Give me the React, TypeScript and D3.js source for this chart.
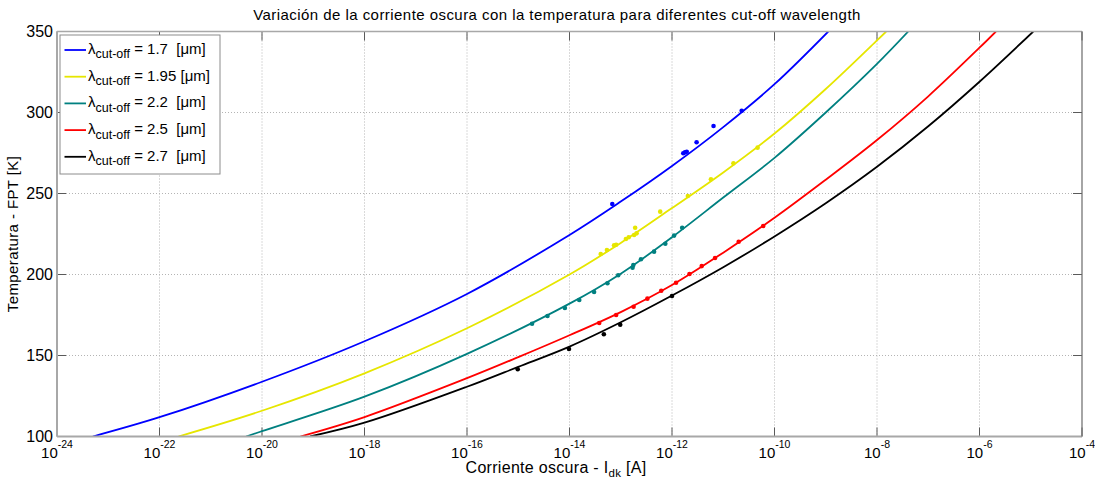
import React from "react";
import * as d3 from "d3";

// Fitted dark-current curves: current [A] vs FPA temperature [K]
const blueCurveI = [5.0e-24, 1e-22, 1e-20, 1e-18, 1e-16, 1e-14, 1e-13, 1e-12, 1e-11, 1e-10, 1.12e-9];
const blueCurveT = [100, 111.9, 133.8, 158.8, 188, 224.4, 245, 267, 291, 317.5, 350];

const yellowCurveI = [2.34e-22, 1e-20, 1e-18, 1e-16, 1e-14, 1e-13, 1e-12, 1e-11, 1e-10, 1e-9, 1e-8, 1.51e-8];
const yellowCurveT = [100, 115.9, 139, 166.8, 200, 219.5, 241, 263, 287, 314.5, 344.5, 350];

const tealCurveI = [4.9e-21, 1e-20, 1e-18, 1e-16, 1e-14, 1e-13, 1e-12, 1e-11, 1e-10, 1e-9, 1e-8, 4.07e-8];
const tealCurveT = [100, 103.3, 124.6, 151, 182, 200.5, 223, 247.5, 272, 300, 330, 350];

const redCurveI = [5.6e-20, 1e-18, 1e-16, 1e-15, 1e-14, 1e-13, 1e-12, 1e-11, 1e-10, 1e-9, 1e-8, 1e-7, 1e-6, 2.09e-6];
const redCurveT = [100, 112, 136, 149, 162.5, 176.8, 193.5, 213.5, 235, 258.5, 283, 310, 340, 350];

const blackCurveI = [8.7e-20, 1e-18, 1e-16, 1e-15, 1e-14, 1e-13, 1e-12, 1e-11, 1e-10, 1e-9, 1e-8, 1e-7, 1e-6, 1.12e-5];
const blackCurveT = [100, 108.5, 130.7, 143, 155.5, 170.5, 187, 204.5, 223.5, 244, 266.5, 291.5, 319, 350];

// Measured points
const bluePtsI = [6.84e-14, 1.66e-12, 1.79e-12, 1.94e-12, 3.02e-12, 6.46e-12, 2.29e-11];
const bluePtsT = [243.5, 274.8, 275.4, 275.8, 281.6, 291.7, 301.1];

const yellowPtsI = [4.07e-14, 5.37e-14, 7.41e-14, 8.13e-14, 1.26e-13, 1.43e-13, 1.82e-13, 1.91e-13, 2.04e-13, 5.89e-13, 2.04e-12, 5.75e-12, 1.58e-11, 4.68e-11];
const yellowPtsT = [212.7, 215.1, 218.0, 218.4, 221.9, 223.0, 224.4, 228.9, 225.4, 238.8, 248.5, 258.8, 268.6, 278.3];

const tealPtsI = [1.86e-15, 3.72e-15, 8.13e-15, 1.55e-14, 3.02e-14, 5.5e-14, 8.91e-14, 1.7e-13, 1.76e-13, 2.48e-13, 4.47e-13, 7.41e-13, 1.1e-12, 1.58e-12];
const tealPtsT = [169.6, 174.4, 179.3, 184.3, 189.2, 194.6, 199.5, 204.2, 205.9, 209.4, 214.1, 219.0, 224.0, 228.9];

const redPtsI = [3.8e-14, 8.13e-14, 1.78e-13, 3.31e-13, 6.17e-13, 1.2e-12, 2.19e-12, 3.8e-12, 6.92e-12, 2.0e-11, 6.03e-11];
const redPtsT = [170.1, 175.0, 180.1, 185.1, 190.0, 194.9, 200.3, 205.2, 210.2, 220.2, 229.9];

const blackPtsI = [9.77e-16, 9.77e-15, 4.68e-14, 9.77e-14, 1.0e-12];
const blackPtsT = [141.5, 154.0, 163.1, 169.0, 186.7];

const cutoffLabels = ["1.7", "1.95", "2.2", "2.5", "2.7"];
const seriesColors = ["#0000ff", "#e6e600", "#008080", "#ff0000", "#000000"];

const xTickExponents = [-24, -22, -20, -18, -16, -14, -12, -10, -8, -6, -4];
const yTicks = [100, 150, 200, 250, 300, 350];

const titleText = "Variación de la corriente oscura con la temperatura para diferentes cut-off wavelength";

const W = 1095;
const H = 480;
const M = { left: 57, right: 1082, top: 31.5, bottom: 436.5 };
const FONT = "'Liberation Sans', Arial, Helvetica, sans-serif";

export default function App() {
  const x = d3.scaleLog().domain([1e-24, 1e-4]).range([M.left, M.right]);
  const y = d3.scaleLinear().domain([100, 350]).range([M.bottom, M.top]);

  const series = [
    { ci: blueCurveI, ct: blueCurveT, pi: bluePtsI, pt: bluePtsT },
    { ci: yellowCurveI, ct: yellowCurveT, pi: yellowPtsI, pt: yellowPtsT },
    { ci: tealCurveI, ct: tealCurveT, pi: tealPtsI, pt: tealPtsT },
    { ci: redCurveI, ct: redCurveT, pi: redPtsI, pt: redPtsT },
    { ci: blackCurveI, ct: blackCurveT, pi: blackPtsI, pt: blackPtsT },
  ];

  const line = d3
    .line<[number, number]>()
    .x((d) => x(d[0]))
    .y((d) => y(d[1]))
    .curve(d3.curveCatmullRom.alpha(0.5));

  const gridColor = "#b4b4b4";
  const tickColor = "#5a5a5a";
  const tickLen = 9;

  const legendTop = 35;
  const legendRowH = 26.7;

  return (
    <svg
      width={W}
      height={H}
      style={{ position: "absolute", left: 0, top: 0, background: "#fff" }}
      fontFamily={FONT}
    >
      <rect x={0} y={0} width={W} height={H} fill="#fff" />
      <defs>
        <clipPath id="plotClip">
          <rect x={M.left} y={M.top} width={M.right - M.left} height={M.bottom - M.top} />
        </clipPath>
      </defs>

      {/* grid */}
      {xTickExponents.slice(1, -1).map((e) => (
        <line
          key={"gx" + e}
          x1={x(Math.pow(10, e))}
          x2={x(Math.pow(10, e))}
          y1={M.top}
          y2={M.bottom}
          stroke={gridColor}
          strokeDasharray="1,2"
        />
      ))}
      {yTicks.slice(1, -1).map((t) => (
        <line
          key={"gy" + t}
          x1={M.left}
          x2={M.right}
          y1={y(t)}
          y2={y(t)}
          stroke={gridColor}
          strokeDasharray="1,2"
        />
      ))}

      {/* ticks on all four sides */}
      {xTickExponents.map((e) => {
        const px = x(Math.pow(10, e));
        return (
          <g key={"tx" + e} stroke={tickColor}>
            <line x1={px} x2={px} y1={M.bottom} y2={M.bottom - tickLen} />
            <line x1={px} x2={px} y1={M.top} y2={M.top + tickLen} />
          </g>
        );
      })}
      {yTicks.map((t) => (
        <g key={"ty" + t} stroke={tickColor}>
          <line x1={M.left} x2={M.left + tickLen} y1={y(t)} y2={y(t)} />
          <line x1={M.right} x2={M.right - tickLen} y1={y(t)} y2={y(t)} />
        </g>
      ))}

      {/* curves and measured points */}
      <g clipPath="url(#plotClip)">
        {series.map((s, i) => (
          <path
            key={"c" + i}
            d={line(s.ci.map((v, k) => [v, s.ct[k]] as [number, number])) || ""}
            fill="none"
            stroke={seriesColors[i]}
            strokeWidth={1.8}
          />
        ))}
        {series.map((s, i) =>
          s.pi.map((v, k) => (
            <circle key={"p" + i + "-" + k} cx={x(v)} cy={y(s.pt[k])} r={2.3} fill={seriesColors[i]} />
          ))
        )}
      </g>

      {/* axes box */}
      <line x1={M.left} x2={M.right} y1={M.top} y2={M.top} stroke="#a8a8a8" strokeWidth={1.6} />
      <line x1={M.left} x2={M.right} y1={M.bottom} y2={M.bottom} stroke="#a8a8a8" strokeWidth={2} />
      <line x1={M.left} x2={M.left} y1={M.top} y2={M.bottom} stroke="#a8a8a8" strokeWidth={2} />
      <line x1={M.right} x2={M.right} y1={M.top} y2={M.bottom} stroke="#6a6a6a" strokeWidth={1.2} />

      {/* x tick labels */}
      {xTickExponents.map((e) => (
        <text key={"lx" + e} x={x(Math.pow(10, e))} y={458} textAnchor="middle" fontSize={15} fill="#000">
          10
          <tspan dy={-10} fontSize={10.5}>
            {String(e)}
          </tspan>
        </text>
      ))}

      {/* y tick labels */}
      {yTicks.map((t) => (
        <text key={"ly" + t} x={53} y={y(t) + 5.6} textAnchor="end" fontSize={16} fill="#000">
          {t}
        </text>
      ))}

      {/* titles */}
      <text x={557} y={19.5} textAnchor="middle" fontSize={15} letterSpacing={0.45} fill="#000">
        {titleText}
      </text>
      <text x={556} y={473} textAnchor="middle" fontSize={16} letterSpacing={0.3} fill="#000">
        Corriente oscura - I
        <tspan dy={4} fontSize={11.5}>dk</tspan>
        <tspan dy={-4}> [A]</tspan>
      </text>
      <text
        transform={`translate(18,${234}) rotate(-90)`}
        textAnchor="middle"
        fontSize={15}
        letterSpacing={0.4}
        fill="#000"
      >
        Temperatura - FPT [K]
      </text>

      {/* legend */}
      <rect x={60} y={legendTop} width={160} height={139} fill="#fff" stroke="#8c8c8c" strokeWidth={1} />
      {cutoffLabels.map((lab, i) => {
        const cy = legendTop + 15 + i * legendRowH;
        const pad = lab.length < 4 ? "  " : " ";
        return (
          <g key={"lg" + i}>
            <line x1={64.5} x2={86} y1={cy} y2={cy} stroke={seriesColors[i]} strokeWidth={1.8} />
            <text x={88} y={cy + 3.8} fontSize={15} fill="#000" style={{ whiteSpace: "pre" }}>
              λ
              <tspan dy={4.6} fontSize={12.5}>cut-off</tspan>
              <tspan dy={-4.6}>{` = ${lab}${pad}[μm]`}</tspan>
            </text>
          </g>
        );
      })}
    </svg>
  );
}
